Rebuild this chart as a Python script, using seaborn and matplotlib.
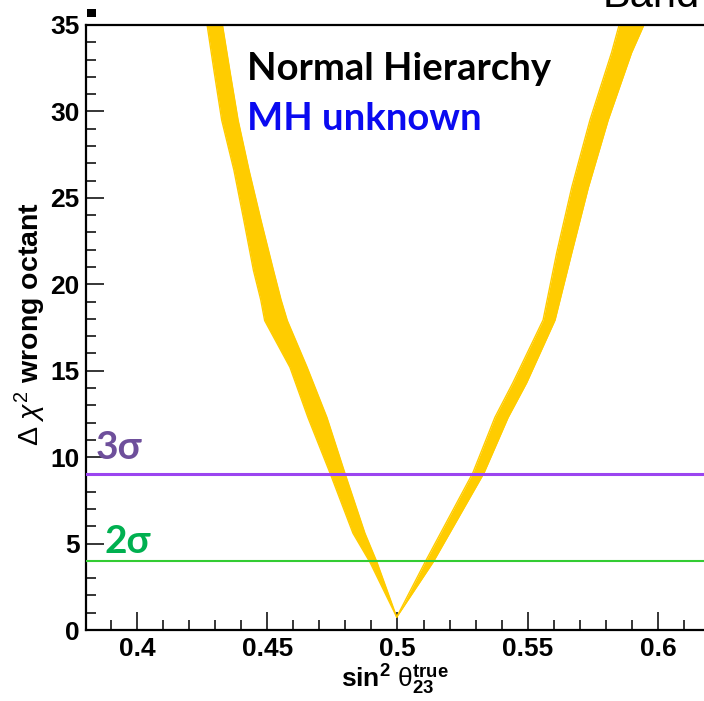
import numpy as np
import pandas as pd
import seaborn as sns
import matplotlib
matplotlib.use("Agg")
import matplotlib.pyplot as plt
from matplotlib.patches import Rectangle
from matplotlib.ticker import MultipleLocator

# ---- data ----
# left branch (sin^2 theta23 < 0.5): Delta chi^2 levels and band edges
left_chi = [0.75, 3.93, 5.6, 9.08, 12.3, 15.2, 17.9, 19.1, 20.8, 23.7, 26.6, 29.5, 32.3, 35.0]
left_lo = [0.4997, 0.4894, 0.4829, 0.4741, 0.4656, 0.4587, 0.4490, 0.4475, 0.4447, 0.4410, 0.4372, 0.4325, 0.4296, 0.4269]
left_hi = [0.4997, 0.4921, 0.4875, 0.4798, 0.4729, 0.4653, 0.4577, 0.4553, 0.4524, 0.4476, 0.4430, 0.4388, 0.4357, 0.4328]
# right branch (sin^2 theta23 > 0.5)
right_chi = [0.75, 3.93, 9.08, 12.3, 14.3, 17.93, 21.8, 25.6, 29.5, 33.4, 35.0]
right_lo = [0.4997, 0.5106, 0.5289, 0.5374, 0.5443, 0.5559, 0.5611, 0.5669, 0.5739, 0.5822, 0.5851]
right_hi = [0.4997, 0.5137, 0.5332, 0.5425, 0.5496, 0.5605, 0.5669, 0.5733, 0.5809, 0.5899, 0.5946]
# confidence levels
sigma_labels = ["3σ", "2σ"]
sigma_values = [9.0, 4.0]
x_ticks = [0.4, 0.45, 0.5, 0.55, 0.6]
y_ticks = [0, 5, 10, 15, 20, 25, 30, 35]

W, H = 704, 701
sns.set_theme(style="white")
plt.rcParams["font.family"] = ["Liberation Sans", "DejaVu Sans"]
plt.rcParams["mathtext.fontset"] = "custom"
plt.rcParams["mathtext.rm"] = "Liberation Sans"
plt.rcParams["mathtext.it"] = "Liberation Sans:italic"
plt.rcParams["mathtext.bf"] = "Liberation Sans:bold"
for k in ["text.color", "axes.labelcolor", "xtick.color", "ytick.color"]:
    plt.rcParams[k] = "black"

fig = plt.figure(figsize=(W / 100, H / 100), dpi=100)
fig.patch.set_facecolor("white")
ax = fig.add_axes([86 / W, (H - 630) / H, (W - 86) / W, 605 / H])
ax.set_facecolor("white")

band_color = "#FFCC00"
left_df = pd.DataFrame({"chi": left_chi, "lo": left_lo, "hi": left_hi})
right_df = pd.DataFrame({"chi": right_chi, "lo": right_lo, "hi": right_hi})
for df in (left_df, right_df):
    ax.fill_betweenx(df["chi"], df["lo"], df["hi"], color=band_color, lw=0)
    sns.lineplot(data=df, x="lo", y="chi", orient="y", color=band_color, lw=1.0, ax=ax)
    sns.lineplot(data=df, x="hi", y="chi", orient="y", color=band_color, lw=1.0, ax=ax)

# sigma lines
line_cols = ["#9B45F0", "#33CC33"]
line_w = [2.2, 1.5]
for v, c, w in zip(sigma_values, line_cols, line_w):
    ax.axhline(v, color=c, lw=w, zorder=3)

ax.set_xlim(0.3804, 0.6177)
ax.set_ylim(0, 35)
ax.set_xlabel("")
ax.set_ylabel("")
ax.set_xticks(x_ticks)
ax.set_xticklabels([f"{t:g}" for t in x_ticks])
ax.set_yticks(y_ticks)
ax.set_yticklabels([f"{t:g}" for t in y_ticks])
ax.xaxis.set_minor_locator(MultipleLocator(0.01))
ax.yaxis.set_minor_locator(MultipleLocator(1))
ax.tick_params(which="both", direction="in", color="black", width=1.1,
               top=False, right=False, bottom=True, left=True,
               labelcolor="black")
ax.tick_params(which="major", length=13)
ax.tick_params(which="minor", length=7)
ax.tick_params(axis="y", which="major", pad=4.5, labelsize=19)
ax.tick_params(axis="x", which="major", pad=5, labelsize=19)
for lab in ax.get_xticklabels() + ax.get_yticklabels():
    lab.set_fontweight("bold")
for s in ["left", "bottom", "top"]:
    ax.spines[s].set_visible(True)
    ax.spines[s].set_color("black")
    ax.spines[s].set_linewidth(1.6)
ax.spines["right"].set_visible(False)
ax.grid(False)

# texts
fam = ["Lato", "Open Sans", "DejaVu Sans"]
ax.text(247 / W, 1 - 80 / H, "Normal Hierarchy", transform=fig.transFigure,
        family=fam, fontweight="bold", fontsize=27.5, color="black",
        va="baseline", ha="left")
ax.text(247 / W, 1 - 130 / H, "MH unknown", transform=fig.transFigure,
        family=fam, fontweight="bold", fontsize=27.5, color="#0A0AF0",
        va="baseline", ha="left")
ax.text(96 / W, 1 - 459 / H, sigma_labels[0], transform=fig.transFigure,
        family=fam, fontweight="bold", fontsize=28, color="#6E4F9B",
        va="baseline", ha="left")
ax.text(104 / W, 1 - 553 / H, sigma_labels[1], transform=fig.transFigure,
        family=fam, fontweight="bold", fontsize=28, color="#00B050",
        va="baseline", ha="left")

fig.text(30 / W, 1 - 324 / H, r"$\Delta\ \chi^{2}$ wrong octant", rotation=90,
         fontsize=20.5, fontweight="bold", ha="center", va="center", color="black")
fig.text(395 / W, 1 - 688 / H,
         r"$\mathbf{sin}^{\mathbf{2}}\ \mathrm{\theta}_{\mathbf{23}}^{\mathbf{true}}$",
         fontsize=19, ha="center", va="baseline", color="black")
fig.text(603 / W, 1 - 7 / H, "Band", fontsize=30, ha="left", va="baseline",
         color="black")
fig.add_artist(Rectangle((87 / W, 1 - 17 / H), 9 / W, 8 / H,
                         transform=fig.transFigure, color="black", lw=0))

fig.savefig("out.png", dpi=100)
